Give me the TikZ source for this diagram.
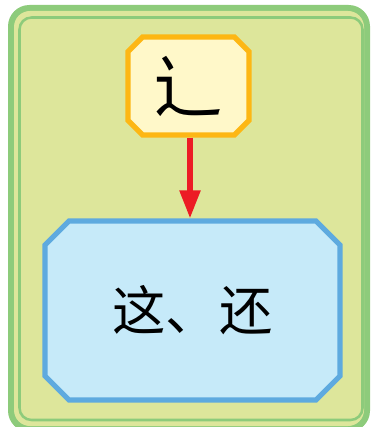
\documentclass[tikz,border=0pt]{standalone}
\usepackage{fontspec}
\usepackage{tikz}
\usetikzlibrary{arrows.meta}
\usetikzlibrary{shapes.misc}
\newfontfamily\cjk{Noto Sans CJK SC}

\begin{document}
\begin{tikzpicture}[x=0.75pt,y=-0.75pt]
        \definecolor{framegreen}{HTML}{8DCB7B}
        \definecolor{paleolive}{HTML}{DDE69B}
        \definecolor{boxorange}{HTML}{FDB714}
        \definecolor{boxcream}{HTML}{FFF8C9}
        \definecolor{boxblue}{HTML}{5EAADF}
        \definecolor{boxsky}{HTML}{C6EAF9}
        \definecolor{arrowred}{HTML}{EC1C24}

        \tikzset{
            cutbox/.style={chamfered rectangle, line width=3.9pt, inner sep=0pt},
            radical/.style={cutbox, draw=boxorange, fill=boxcream,
                chamfered rectangle xsep=5.5pt, chamfered rectangle ysep=5.5pt,
                minimum width=90.75pt, minimum height=73.5pt,
                font=\cjk\fontsize{52}{52}\selectfont},
            chars/.style={cutbox, draw=boxblue, fill=boxsky,
                chamfered rectangle xsep=9pt, chamfered rectangle ysep=9pt,
                minimum width=221.25pt, minimum height=134.25pt,
                font=\cjk\fontsize{40}{40}\selectfont},
            redarrow/.style={draw=arrowred, line width=4pt,
                -{Triangle[length=21pt, width=15pt]}}
        }

        \useasboundingbox (0,0) rectangle (371,427);

        % Draw the frame
        \fill[framegreen, rounded corners=16] (8,5) rectangle (370,432);
        \fill[paleolive, rounded corners=12] (14,11) rectangle (364,426);
        \draw[framegreen, line width=1.9pt, rounded corners=9] (19.5,17.5) rectangle (362.5,420);

        % The two boxes
        \node[radical] (zou) at (188.5,86) {辶};
        \node[chars] (words) at (192.5,310.5) {这、还};

        % Arrow
        \draw[redarrow] (zou.south -| 190,0) -- (words.north -| 190,0);
\end{tikzpicture}
\end{document}
